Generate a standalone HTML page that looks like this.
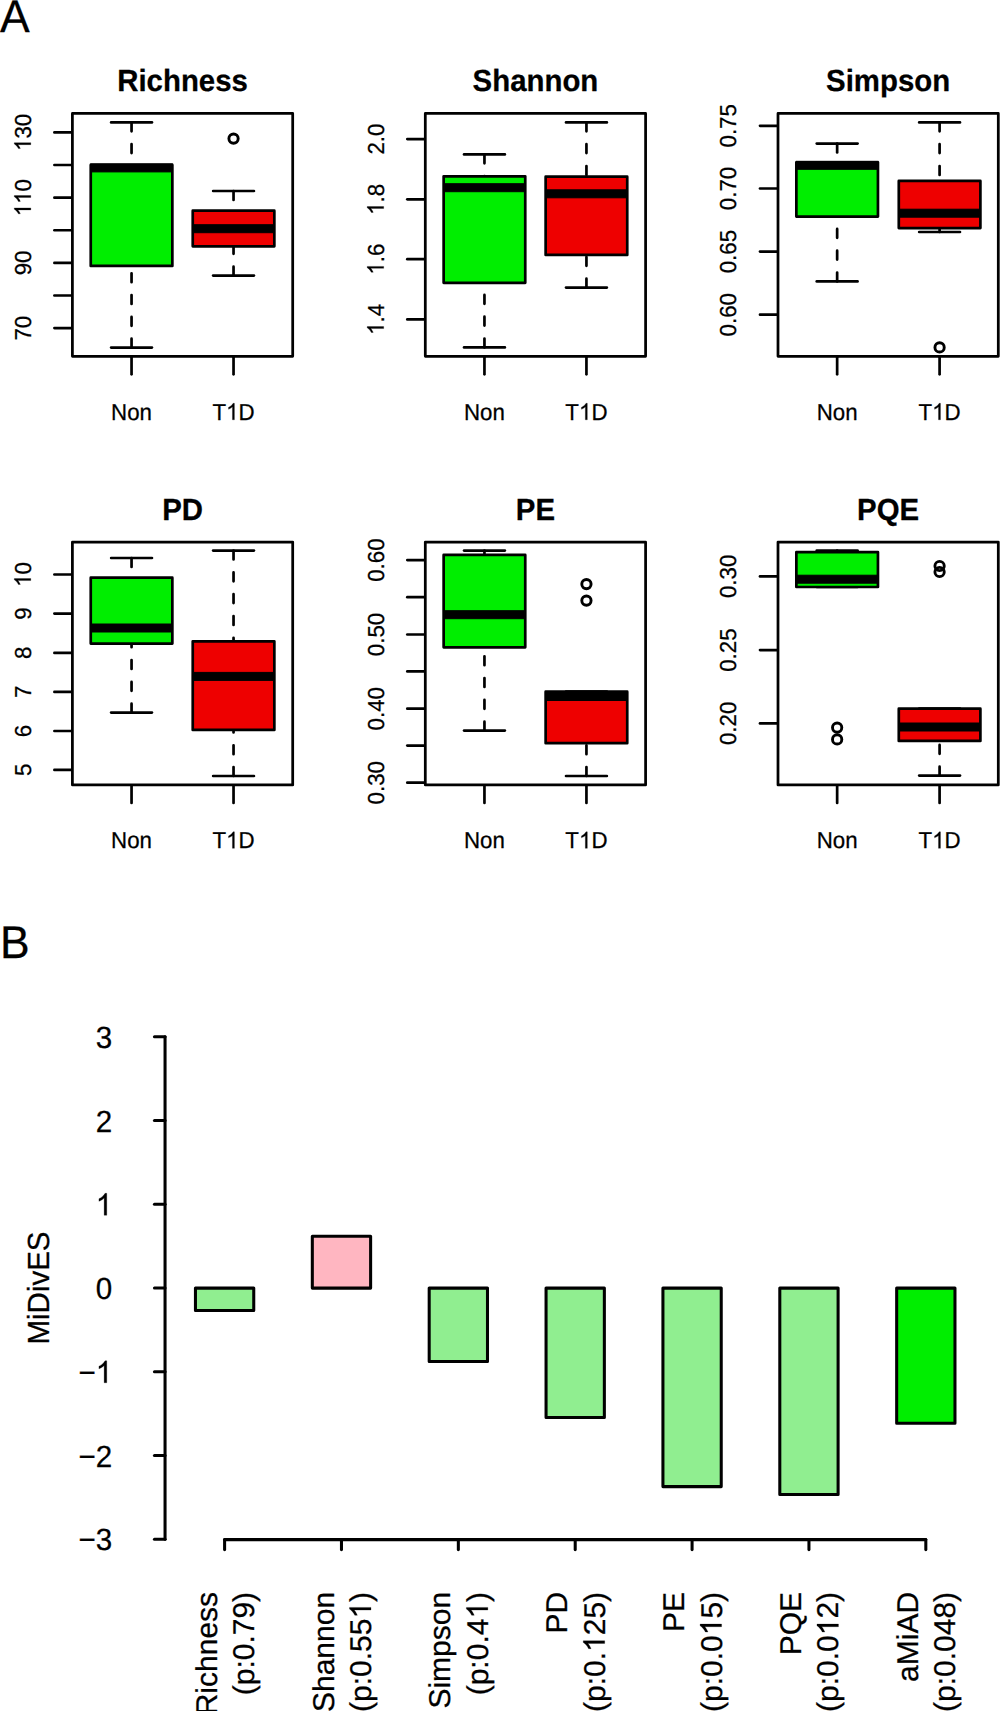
<!DOCTYPE html>
<html><head><meta charset="utf-8"><style>
html,body{margin:0;padding:0;background:#fff;}
svg{display:block;}
text{font-family:"Liberation Sans", sans-serif;fill:#000;stroke:#000;stroke-width:0.25px;font-kerning:none;font-variant-ligatures:none;}
.h{fill-opacity:0;stroke-opacity:0;}
g>path{fill:#000;stroke:#000;}
.tt{font-size:29.4px;font-weight:bold;text-anchor:middle;stroke-width:0.25px;}
.ax{font-size:22.3px;text-anchor:middle;}
.pl{font-size:44.5px;}
.bl{font-size:29.6px;text-anchor:end;}
.bm{font-size:29.5px;text-anchor:middle;}
.bx{font-size:30px;text-anchor:end;}
line,rect,circle{stroke:#000;stroke-linecap:round;}
</style></head><body>
<svg width="1000" height="1711" viewBox="0 0 1000 1711">
<text class="tt" transform="translate(182.55,91) scale(1,1.04) skewX(0.05)">Richness</text>
<line x1="131.55" y1="122.4" x2="131.55" y2="164.9" stroke-width="2.7" stroke-dasharray="8.9 12.9"/>
<line x1="131.55" y1="347.6" x2="131.55" y2="265.9" stroke-width="2.7" stroke-dasharray="8.9 12.9"/>
<line x1="111.15" y1="122.4" x2="151.95" y2="122.4" stroke-width="2.7"/>
<line x1="111.15" y1="347.6" x2="151.95" y2="347.6" stroke-width="2.7"/>
<rect x="90.75" y="164.9" width="81.6" height="101" fill="#00EE00" stroke-width="2.7" stroke-linejoin="round"/>
<rect x="90.75" y="163.9" width="81.6" height="8" fill="#000" stroke="none"/>
<line x1="233.54" y1="191" x2="233.54" y2="210.7" stroke-width="2.7" stroke-dasharray="8.9 12.9"/>
<line x1="233.54" y1="275.6" x2="233.54" y2="246.3" stroke-width="2.7" stroke-dasharray="8.9 12.9"/>
<line x1="213.14" y1="191" x2="253.94" y2="191" stroke-width="2.7"/>
<line x1="213.14" y1="275.6" x2="253.94" y2="275.6" stroke-width="2.7"/>
<rect x="192.74" y="210.7" width="81.6" height="35.6" fill="#EE0000" stroke-width="2.7" stroke-linejoin="round"/>
<rect x="192.74" y="224.7" width="81.6" height="8" fill="#000" stroke="none"/>
<circle cx="233.54" cy="138.6" r="4.65" fill="none" stroke-width="2.9"/>
<rect x="72.4" y="113.45" width="220.3" height="242.9" fill="none" stroke-width="2.75" stroke-linejoin="round"/>
<line x1="54.4" y1="132.4" x2="71.4" y2="132.4" stroke-width="2.7"/>
<g transform="translate(30.8,132.4) rotate(-90) scale(1,1.035) skewX(0.05)"><text class="ax"><tspan class="h">1</tspan>30</text><path d="M372.6 0H284.7V560Q252.9 529.8 201.4 499.5Q149.9 469.2 108.9 454.1V539Q182.6 573.7 237.8 623Q293 672.4 315.9 715.8H372.6Z" transform="translate(-18.6,0) scale(0.02230,-0.02230)" stroke-width="11.21"/></g>
<line x1="54.4" y1="165.02" x2="71.4" y2="165.02" stroke-width="2.7"/>
<line x1="54.4" y1="197.64" x2="71.4" y2="197.64" stroke-width="2.7"/>
<g transform="translate(30.8,197.64) rotate(-90) scale(1,1.035) skewX(0.05)"><text class="ax"><tspan class="h">1</tspan><tspan class="h">1</tspan>0</text><path d="M372.6 0H284.7V560Q252.9 529.8 201.4 499.5Q149.9 469.2 108.9 454.1V539Q182.6 573.7 237.8 623Q293 672.4 315.9 715.8H372.6Z" transform="translate(-18.6,0) scale(0.02230,-0.02230)" stroke-width="11.21"/><path d="M372.6 0H284.7V560Q252.9 529.8 201.4 499.5Q149.9 469.2 108.9 454.1V539Q182.6 573.7 237.8 623Q293 672.4 315.9 715.8H372.6Z" transform="translate(-6.2,0) scale(0.02230,-0.02230)" stroke-width="11.21"/></g>
<line x1="54.4" y1="230.26" x2="71.4" y2="230.26" stroke-width="2.7"/>
<line x1="54.4" y1="262.88" x2="71.4" y2="262.88" stroke-width="2.7"/>
<g transform="translate(30.8,262.88) rotate(-90) scale(1,1.035) skewX(0.05)"><text class="ax">90</text></g>
<line x1="54.4" y1="295.5" x2="71.4" y2="295.5" stroke-width="2.7"/>
<line x1="54.4" y1="328.12" x2="71.4" y2="328.12" stroke-width="2.7"/>
<g transform="translate(30.8,328.12) rotate(-90) scale(1,1.035) skewX(0.05)"><text class="ax">70</text></g>
<line x1="131.55" y1="357.35" x2="131.55" y2="374.35" stroke-width="2.7"/>
<g transform="translate(131.55,419.8) scale(1,1.035) skewX(0.05)"><text class="ax">Non</text></g>
<line x1="233.54" y1="357.35" x2="233.54" y2="374.35" stroke-width="2.7"/>
<g transform="translate(233.54,419.8) scale(1,1.035) skewX(0.05)"><text class="ax">T<tspan class="h">1</tspan>D</text><path d="M372.6 0H284.7V560Q252.9 529.8 201.4 499.5Q149.9 469.2 108.9 454.1V539Q182.6 573.7 237.8 623Q293 672.4 315.9 715.8H372.6Z" transform="translate(-7.44,0) scale(0.02230,-0.02230)" stroke-width="11.21"/></g>
<text class="tt" transform="translate(535.45,91) scale(1,1.04) skewX(0.05)">Shannon</text>
<line x1="484.45" y1="154.4" x2="484.45" y2="176.3" stroke-width="2.7" stroke-dasharray="8.9 12.9"/>
<line x1="484.45" y1="347.4" x2="484.45" y2="282.8" stroke-width="2.7" stroke-dasharray="8.9 12.9"/>
<line x1="464.05" y1="154.4" x2="504.85" y2="154.4" stroke-width="2.7"/>
<line x1="464.05" y1="347.4" x2="504.85" y2="347.4" stroke-width="2.7"/>
<rect x="443.65" y="176.3" width="81.6" height="106.5" fill="#00EE00" stroke-width="2.7" stroke-linejoin="round"/>
<rect x="443.65" y="183.7" width="81.6" height="8" fill="#000" stroke="none"/>
<line x1="586.44" y1="122.4" x2="586.44" y2="176.7" stroke-width="2.7" stroke-dasharray="8.9 12.9"/>
<line x1="586.44" y1="287.6" x2="586.44" y2="254.9" stroke-width="2.7" stroke-dasharray="8.9 12.9"/>
<line x1="566.04" y1="122.4" x2="606.84" y2="122.4" stroke-width="2.7"/>
<line x1="566.04" y1="287.6" x2="606.84" y2="287.6" stroke-width="2.7"/>
<rect x="545.64" y="176.7" width="81.6" height="78.2" fill="#EE0000" stroke-width="2.7" stroke-linejoin="round"/>
<rect x="545.64" y="189.8" width="81.6" height="8" fill="#000" stroke="none"/>
<rect x="425.3" y="113.45" width="220.3" height="242.9" fill="none" stroke-width="2.75" stroke-linejoin="round"/>
<line x1="407.3" y1="139.1" x2="424.3" y2="139.1" stroke-width="2.7"/>
<g transform="translate(383.7,139.1) rotate(-90) scale(1,1.035) skewX(0.05)"><text class="ax">2.0</text></g>
<line x1="407.3" y1="199.3" x2="424.3" y2="199.3" stroke-width="2.7"/>
<g transform="translate(383.7,199.3) rotate(-90) scale(1,1.035) skewX(0.05)"><text class="ax"><tspan class="h">1</tspan>.8</text><path d="M372.6 0H284.7V560Q252.9 529.8 201.4 499.5Q149.9 469.2 108.9 454.1V539Q182.6 573.7 237.8 623Q293 672.4 315.9 715.8H372.6Z" transform="translate(-15.5,0) scale(0.02230,-0.02230)" stroke-width="11.21"/></g>
<line x1="407.3" y1="259.2" x2="424.3" y2="259.2" stroke-width="2.7"/>
<g transform="translate(383.7,259.2) rotate(-90) scale(1,1.035) skewX(0.05)"><text class="ax"><tspan class="h">1</tspan>.6</text><path d="M372.6 0H284.7V560Q252.9 529.8 201.4 499.5Q149.9 469.2 108.9 454.1V539Q182.6 573.7 237.8 623Q293 672.4 315.9 715.8H372.6Z" transform="translate(-15.5,0) scale(0.02230,-0.02230)" stroke-width="11.21"/></g>
<line x1="407.3" y1="319.4" x2="424.3" y2="319.4" stroke-width="2.7"/>
<g transform="translate(383.7,319.4) rotate(-90) scale(1,1.035) skewX(0.05)"><text class="ax"><tspan class="h">1</tspan>.4</text><path d="M372.6 0H284.7V560Q252.9 529.8 201.4 499.5Q149.9 469.2 108.9 454.1V539Q182.6 573.7 237.8 623Q293 672.4 315.9 715.8H372.6Z" transform="translate(-15.5,0) scale(0.02230,-0.02230)" stroke-width="11.21"/></g>
<line x1="484.45" y1="357.35" x2="484.45" y2="374.35" stroke-width="2.7"/>
<g transform="translate(484.45,419.8) scale(1,1.035) skewX(0.05)"><text class="ax">Non</text></g>
<line x1="586.44" y1="357.35" x2="586.44" y2="374.35" stroke-width="2.7"/>
<g transform="translate(586.44,419.8) scale(1,1.035) skewX(0.05)"><text class="ax">T<tspan class="h">1</tspan>D</text><path d="M372.6 0H284.7V560Q252.9 529.8 201.4 499.5Q149.9 469.2 108.9 454.1V539Q182.6 573.7 237.8 623Q293 672.4 315.9 715.8H372.6Z" transform="translate(-7.44,0) scale(0.02230,-0.02230)" stroke-width="11.21"/></g>
<text class="tt" transform="translate(888.15,91) scale(1,1.04) skewX(0.05)">Simpson</text>
<line x1="837.15" y1="143.6" x2="837.15" y2="162.3" stroke-width="2.7" stroke-dasharray="8.9 12.9"/>
<line x1="837.15" y1="281.4" x2="837.15" y2="216.6" stroke-width="2.7" stroke-dasharray="8.9 12.9"/>
<line x1="816.75" y1="143.6" x2="857.55" y2="143.6" stroke-width="2.7"/>
<line x1="816.75" y1="281.4" x2="857.55" y2="281.4" stroke-width="2.7"/>
<rect x="796.35" y="162.3" width="81.6" height="54.3" fill="#00EE00" stroke-width="2.7" stroke-linejoin="round"/>
<rect x="796.35" y="161.3" width="81.6" height="8" fill="#000" stroke="none"/>
<line x1="939.59" y1="122.4" x2="939.59" y2="180.9" stroke-width="2.7" stroke-dasharray="8.9 12.9"/>
<line x1="939.59" y1="232" x2="939.59" y2="228.1" stroke-width="2.7" stroke-dasharray="8.9 12.9"/>
<line x1="919.19" y1="122.4" x2="959.99" y2="122.4" stroke-width="2.7"/>
<line x1="919.19" y1="232" x2="959.99" y2="232" stroke-width="2.7"/>
<rect x="898.79" y="180.9" width="81.6" height="47.2" fill="#EE0000" stroke-width="2.7" stroke-linejoin="round"/>
<rect x="898.79" y="209.2" width="81.6" height="8" fill="#000" stroke="none"/>
<circle cx="939.59" cy="347.4" r="4.65" fill="none" stroke-width="2.9"/>
<rect x="778" y="113.45" width="220.3" height="242.9" fill="none" stroke-width="2.75" stroke-linejoin="round"/>
<line x1="760" y1="125.8" x2="777" y2="125.8" stroke-width="2.7"/>
<g transform="translate(736.4,125.8) rotate(-90) scale(1,1.035) skewX(0.05)"><text class="ax">0.75</text></g>
<line x1="760" y1="188.5" x2="777" y2="188.5" stroke-width="2.7"/>
<g transform="translate(736.4,188.5) rotate(-90) scale(1,1.035) skewX(0.05)"><text class="ax">0.70</text></g>
<line x1="760" y1="251.6" x2="777" y2="251.6" stroke-width="2.7"/>
<g transform="translate(736.4,251.6) rotate(-90) scale(1,1.035) skewX(0.05)"><text class="ax">0.65</text></g>
<line x1="760" y1="314.7" x2="777" y2="314.7" stroke-width="2.7"/>
<g transform="translate(736.4,314.7) rotate(-90) scale(1,1.035) skewX(0.05)"><text class="ax">0.60</text></g>
<line x1="837.15" y1="357.35" x2="837.15" y2="374.35" stroke-width="2.7"/>
<g transform="translate(837.15,419.8) scale(1,1.035) skewX(0.05)"><text class="ax">Non</text></g>
<line x1="939.59" y1="357.35" x2="939.59" y2="374.35" stroke-width="2.7"/>
<g transform="translate(939.59,419.8) scale(1,1.035) skewX(0.05)"><text class="ax">T<tspan class="h">1</tspan>D</text><path d="M372.6 0H284.7V560Q252.9 529.8 201.4 499.5Q149.9 469.2 108.9 454.1V539Q182.6 573.7 237.8 623Q293 672.4 315.9 715.8H372.6Z" transform="translate(-7.44,0) scale(0.02230,-0.02230)" stroke-width="11.21"/></g>
<text class="tt" transform="translate(182.55,519.55) scale(1,1.04) skewX(0.05)">PD</text>
<line x1="131.55" y1="558" x2="131.55" y2="577.7" stroke-width="2.7" stroke-dasharray="8.9 12.9"/>
<line x1="131.55" y1="712.6" x2="131.55" y2="643.6" stroke-width="2.7" stroke-dasharray="8.9 12.9"/>
<line x1="111.15" y1="558" x2="151.95" y2="558" stroke-width="2.7"/>
<line x1="111.15" y1="712.6" x2="151.95" y2="712.6" stroke-width="2.7"/>
<rect x="90.75" y="577.7" width="81.6" height="65.9" fill="#00EE00" stroke-width="2.7" stroke-linejoin="round"/>
<rect x="90.75" y="624" width="81.6" height="8" fill="#000" stroke="none"/>
<line x1="233.54" y1="550.6" x2="233.54" y2="641.3" stroke-width="2.7" stroke-dasharray="8.9 12.9"/>
<line x1="233.54" y1="776" x2="233.54" y2="729.9" stroke-width="2.7" stroke-dasharray="8.9 12.9"/>
<line x1="213.14" y1="550.6" x2="253.94" y2="550.6" stroke-width="2.7"/>
<line x1="213.14" y1="776" x2="253.94" y2="776" stroke-width="2.7"/>
<rect x="192.74" y="641.3" width="81.6" height="88.6" fill="#EE0000" stroke-width="2.7" stroke-linejoin="round"/>
<rect x="192.74" y="672.4" width="81.6" height="8" fill="#000" stroke="none"/>
<rect x="72.4" y="542" width="220.3" height="242.9" fill="none" stroke-width="2.75" stroke-linejoin="round"/>
<line x1="54.4" y1="574.5" x2="71.4" y2="574.5" stroke-width="2.7"/>
<g transform="translate(30.8,574.5) rotate(-90) scale(1,1.035) skewX(0.05)"><text class="ax"><tspan class="h">1</tspan>0</text><path d="M372.6 0H284.7V560Q252.9 529.8 201.4 499.5Q149.9 469.2 108.9 454.1V539Q182.6 573.7 237.8 623Q293 672.4 315.9 715.8H372.6Z" transform="translate(-12.4,0) scale(0.02230,-0.02230)" stroke-width="11.21"/></g>
<line x1="54.4" y1="613.6" x2="71.4" y2="613.6" stroke-width="2.7"/>
<g transform="translate(30.8,613.6) rotate(-90) scale(1,1.035) skewX(0.05)"><text class="ax">9</text></g>
<line x1="54.4" y1="652.9" x2="71.4" y2="652.9" stroke-width="2.7"/>
<g transform="translate(30.8,652.9) rotate(-90) scale(1,1.035) skewX(0.05)"><text class="ax">8</text></g>
<line x1="54.4" y1="691.9" x2="71.4" y2="691.9" stroke-width="2.7"/>
<g transform="translate(30.8,691.9) rotate(-90) scale(1,1.035) skewX(0.05)"><text class="ax">7</text></g>
<line x1="54.4" y1="731" x2="71.4" y2="731" stroke-width="2.7"/>
<g transform="translate(30.8,731) rotate(-90) scale(1,1.035) skewX(0.05)"><text class="ax">6</text></g>
<line x1="54.4" y1="769.9" x2="71.4" y2="769.9" stroke-width="2.7"/>
<g transform="translate(30.8,769.9) rotate(-90) scale(1,1.035) skewX(0.05)"><text class="ax">5</text></g>
<line x1="131.55" y1="785.9" x2="131.55" y2="802.9" stroke-width="2.7"/>
<g transform="translate(131.55,848.35) scale(1,1.035) skewX(0.05)"><text class="ax">Non</text></g>
<line x1="233.54" y1="785.9" x2="233.54" y2="802.9" stroke-width="2.7"/>
<g transform="translate(233.54,848.35) scale(1,1.035) skewX(0.05)"><text class="ax">T<tspan class="h">1</tspan>D</text><path d="M372.6 0H284.7V560Q252.9 529.8 201.4 499.5Q149.9 469.2 108.9 454.1V539Q182.6 573.7 237.8 623Q293 672.4 315.9 715.8H372.6Z" transform="translate(-7.44,0) scale(0.02230,-0.02230)" stroke-width="11.21"/></g>
<text class="tt" transform="translate(535.45,519.55) scale(1,1.04) skewX(0.05)">PE</text>
<line x1="484.45" y1="550.6" x2="484.45" y2="554.9" stroke-width="2.7" stroke-dasharray="8.9 12.9"/>
<line x1="484.45" y1="730.6" x2="484.45" y2="647.3" stroke-width="2.7" stroke-dasharray="8.9 12.9"/>
<line x1="464.05" y1="550.6" x2="504.85" y2="550.6" stroke-width="2.7"/>
<line x1="464.05" y1="730.6" x2="504.85" y2="730.6" stroke-width="2.7"/>
<rect x="443.65" y="554.9" width="81.6" height="92.4" fill="#00EE00" stroke-width="2.7" stroke-linejoin="round"/>
<rect x="443.65" y="610.7" width="81.6" height="8" fill="#000" stroke="none"/>
<line x1="586.44" y1="776" x2="586.44" y2="743.2" stroke-width="2.7" stroke-dasharray="8.9 12.9"/>
<line x1="566.04" y1="691.7" x2="606.84" y2="691.7" stroke-width="2.7"/>
<line x1="566.04" y1="776" x2="606.84" y2="776" stroke-width="2.7"/>
<rect x="545.64" y="691.7" width="81.6" height="51.5" fill="#EE0000" stroke-width="2.7" stroke-linejoin="round"/>
<rect x="545.64" y="692.5" width="81.6" height="8" fill="#000" stroke="none"/>
<circle cx="586.44" cy="584.1" r="4.65" fill="none" stroke-width="2.9"/>
<circle cx="586.44" cy="600.6" r="4.65" fill="none" stroke-width="2.9"/>
<rect x="425.3" y="542" width="220.3" height="242.9" fill="none" stroke-width="2.75" stroke-linejoin="round"/>
<line x1="407.3" y1="560.1" x2="424.3" y2="560.1" stroke-width="2.7"/>
<g transform="translate(383.7,560.1) rotate(-90) scale(1,1.035) skewX(0.05)"><text class="ax">0.60</text></g>
<line x1="407.3" y1="597.2" x2="424.3" y2="597.2" stroke-width="2.7"/>
<line x1="407.3" y1="634.5" x2="424.3" y2="634.5" stroke-width="2.7"/>
<g transform="translate(383.7,634.5) rotate(-90) scale(1,1.035) skewX(0.05)"><text class="ax">0.50</text></g>
<line x1="407.3" y1="671.4" x2="424.3" y2="671.4" stroke-width="2.7"/>
<line x1="407.3" y1="708.7" x2="424.3" y2="708.7" stroke-width="2.7"/>
<g transform="translate(383.7,708.7) rotate(-90) scale(1,1.035) skewX(0.05)"><text class="ax">0.40</text></g>
<line x1="407.3" y1="745.6" x2="424.3" y2="745.6" stroke-width="2.7"/>
<line x1="407.3" y1="782.7" x2="424.3" y2="782.7" stroke-width="2.7"/>
<g transform="translate(383.7,782.7) rotate(-90) scale(1,1.035) skewX(0.05)"><text class="ax">0.30</text></g>
<line x1="484.45" y1="785.9" x2="484.45" y2="802.9" stroke-width="2.7"/>
<g transform="translate(484.45,848.35) scale(1,1.035) skewX(0.05)"><text class="ax">Non</text></g>
<line x1="586.44" y1="785.9" x2="586.44" y2="802.9" stroke-width="2.7"/>
<g transform="translate(586.44,848.35) scale(1,1.035) skewX(0.05)"><text class="ax">T<tspan class="h">1</tspan>D</text><path d="M372.6 0H284.7V560Q252.9 529.8 201.4 499.5Q149.9 469.2 108.9 454.1V539Q182.6 573.7 237.8 623Q293 672.4 315.9 715.8H372.6Z" transform="translate(-7.44,0) scale(0.02230,-0.02230)" stroke-width="11.21"/></g>
<text class="tt" transform="translate(888.15,519.55) scale(1,1.04) skewX(0.05)">PQE</text>
<line x1="837.15" y1="550.5" x2="837.15" y2="552.2" stroke-width="2.7" stroke-dasharray="8.9 12.9"/>
<line x1="816.75" y1="550.5" x2="857.55" y2="550.5" stroke-width="2.7"/>
<line x1="816.75" y1="587" x2="857.55" y2="587" stroke-width="2.7"/>
<rect x="796.35" y="552.2" width="81.6" height="34.8" fill="#00EE00" stroke-width="2.7" stroke-linejoin="round"/>
<rect x="796.35" y="575.2" width="81.6" height="8" fill="#000" stroke="none"/>
<circle cx="837.15" cy="727.6" r="4.65" fill="none" stroke-width="2.9"/>
<circle cx="837.15" cy="739.4" r="4.65" fill="none" stroke-width="2.9"/>
<line x1="939.59" y1="775.6" x2="939.59" y2="740.9" stroke-width="2.7" stroke-dasharray="8.9 12.9"/>
<line x1="919.19" y1="708.7" x2="959.99" y2="708.7" stroke-width="2.7"/>
<line x1="919.19" y1="775.6" x2="959.99" y2="775.6" stroke-width="2.7"/>
<rect x="898.79" y="708.7" width="81.6" height="32.2" fill="#EE0000" stroke-width="2.7" stroke-linejoin="round"/>
<rect x="898.79" y="723" width="81.6" height="8" fill="#000" stroke="none"/>
<circle cx="939.59" cy="566" r="4.65" fill="none" stroke-width="2.9"/>
<circle cx="939.59" cy="572" r="4.65" fill="none" stroke-width="2.9"/>
<rect x="778" y="542" width="220.3" height="242.9" fill="none" stroke-width="2.75" stroke-linejoin="round"/>
<line x1="760" y1="576.4" x2="777" y2="576.4" stroke-width="2.7"/>
<g transform="translate(736.4,576.4) rotate(-90) scale(1,1.035) skewX(0.05)"><text class="ax">0.30</text></g>
<line x1="760" y1="650.1" x2="777" y2="650.1" stroke-width="2.7"/>
<g transform="translate(736.4,650.1) rotate(-90) scale(1,1.035) skewX(0.05)"><text class="ax">0.25</text></g>
<line x1="760" y1="723.4" x2="777" y2="723.4" stroke-width="2.7"/>
<g transform="translate(736.4,723.4) rotate(-90) scale(1,1.035) skewX(0.05)"><text class="ax">0.20</text></g>
<line x1="837.15" y1="785.9" x2="837.15" y2="802.9" stroke-width="2.7"/>
<g transform="translate(837.15,848.35) scale(1,1.035) skewX(0.05)"><text class="ax">Non</text></g>
<line x1="939.59" y1="785.9" x2="939.59" y2="802.9" stroke-width="2.7"/>
<g transform="translate(939.59,848.35) scale(1,1.035) skewX(0.05)"><text class="ax">T<tspan class="h">1</tspan>D</text><path d="M372.6 0H284.7V560Q252.9 529.8 201.4 499.5Q149.9 469.2 108.9 454.1V539Q182.6 573.7 237.8 623Q293 672.4 315.9 715.8H372.6Z" transform="translate(-7.44,0) scale(0.02230,-0.02230)" stroke-width="11.21"/></g>
<text class="pl" transform="translate(0,31.6) scale(1,1.03) skewX(0.05)">A</text>
<text class="pl" transform="translate(0,957.85) scale(1,1.03) skewX(0.05)">B</text>
<line x1="165.05" y1="1036.75" x2="165.05" y2="1539.25" stroke-width="3.05"/>
<line x1="154.45" y1="1036.75" x2="165.05" y2="1036.75" stroke-width="3.05"/>
<g transform="translate(112.2,1047.75) scale(1,1.035) skewX(0.05)"><text class="bl">3</text></g>
<line x1="154.45" y1="1120.5" x2="165.05" y2="1120.5" stroke-width="3.05"/>
<g transform="translate(112.2,1131.5) scale(1,1.035) skewX(0.05)"><text class="bl">2</text></g>
<line x1="154.45" y1="1204.25" x2="165.05" y2="1204.25" stroke-width="3.05"/>
<g transform="translate(112.2,1215.25) scale(1,1.035) skewX(0.05)"><text class="bl"><tspan class="h">1</tspan></text><path d="M372.6 0H284.7V560Q252.9 529.8 201.4 499.5Q149.9 469.2 108.9 454.1V539Q182.6 573.7 237.8 623Q293 672.4 315.9 715.8H372.6Z" transform="translate(-16.46,0) scale(0.02960,-0.02960)" stroke-width="8.45"/></g>
<line x1="154.45" y1="1288" x2="165.05" y2="1288" stroke-width="3.05"/>
<g transform="translate(112.2,1299) scale(1,1.035) skewX(0.05)"><text class="bl">0</text></g>
<line x1="154.45" y1="1371.75" x2="165.05" y2="1371.75" stroke-width="3.05"/>
<g transform="translate(112.2,1382.75) scale(1,1.035) skewX(0.05)"><text class="bl">−<tspan class="h">1</tspan></text><path d="M372.6 0H284.7V560Q252.9 529.8 201.4 499.5Q149.9 469.2 108.9 454.1V539Q182.6 573.7 237.8 623Q293 672.4 315.9 715.8H372.6Z" transform="translate(-16.46,0) scale(0.02960,-0.02960)" stroke-width="8.45"/></g>
<line x1="154.45" y1="1455.5" x2="165.05" y2="1455.5" stroke-width="3.05"/>
<g transform="translate(112.2,1466.5) scale(1,1.035) skewX(0.05)"><text class="bl">−2</text></g>
<line x1="154.45" y1="1539.25" x2="165.05" y2="1539.25" stroke-width="3.05"/>
<g transform="translate(112.2,1550.25) scale(1,1.035) skewX(0.05)"><text class="bl">−3</text></g>
<g transform="translate(48.8,1288) rotate(-90) scale(1,1.035) skewX(0.05)"><text class="bm">MiDivES</text></g>
<rect x="195.45" y="1288.1" width="58.3" height="22.4" fill="#90EE90" stroke-width="3.05" stroke-linejoin="round"/>
<rect x="312.32" y="1236.3" width="58.3" height="51.8" fill="#FFB6C1" stroke-width="3.05" stroke-linejoin="round"/>
<rect x="429.19" y="1288.1" width="58.3" height="73.3" fill="#90EE90" stroke-width="3.05" stroke-linejoin="round"/>
<rect x="546.06" y="1288.1" width="58.3" height="129.3" fill="#90EE90" stroke-width="3.05" stroke-linejoin="round"/>
<rect x="662.93" y="1288.1" width="58.3" height="198.5" fill="#90EE90" stroke-width="3.05" stroke-linejoin="round"/>
<rect x="779.8" y="1288.1" width="58.3" height="206.4" fill="#90EE90" stroke-width="3.05" stroke-linejoin="round"/>
<rect x="896.67" y="1288.1" width="58.3" height="135.2" fill="#00EE00" stroke-width="3.05" stroke-linejoin="round"/>
<line x1="224.6" y1="1539.6" x2="925.82" y2="1539.6" stroke-width="3.05"/>
<line x1="224.6" y1="1539.6" x2="224.6" y2="1549.6" stroke-width="3.05"/>
<line x1="341.47" y1="1539.6" x2="341.47" y2="1549.6" stroke-width="3.05"/>
<line x1="458.34" y1="1539.6" x2="458.34" y2="1549.6" stroke-width="3.05"/>
<line x1="575.21" y1="1539.6" x2="575.21" y2="1549.6" stroke-width="3.05"/>
<line x1="692.08" y1="1539.6" x2="692.08" y2="1549.6" stroke-width="3.05"/>
<line x1="808.95" y1="1539.6" x2="808.95" y2="1549.6" stroke-width="3.05"/>
<line x1="925.82" y1="1539.6" x2="925.82" y2="1549.6" stroke-width="3.05"/>
<g transform="translate(216.75,1591.9) rotate(-90) scale(1,1.0) skewX(0.05)"><text class="bx">Richness</text></g>
<g transform="translate(254.1,1591.9) rotate(-90) scale(1,1.0) skewX(0.05)"><text class="bx">(p:0.79)</text></g>
<g transform="translate(333.62,1591.9) rotate(-90) scale(1,1.0) skewX(0.05)"><text class="bx">Shannon</text></g>
<g transform="translate(370.97,1591.9) rotate(-90) scale(1,1.0) skewX(0.05)"><text class="bx">(p:0.55<tspan class="h">1</tspan>)</text><path d="M372.6 0H284.7V560Q252.9 529.8 201.4 499.5Q149.9 469.2 108.9 454.1V539Q182.6 573.7 237.8 623Q293 672.4 315.9 715.8H372.6Z" transform="translate(-26.67,0) scale(0.03000,-0.03000)" stroke-width="8.33"/></g>
<g transform="translate(450.49,1591.9) rotate(-90) scale(1,1.0) skewX(0.05)"><text class="bx">Simpson</text></g>
<g transform="translate(487.84,1591.9) rotate(-90) scale(1,1.0) skewX(0.05)"><text class="bx">(p:0.4<tspan class="h">1</tspan>)</text><path d="M372.6 0H284.7V560Q252.9 529.8 201.4 499.5Q149.9 469.2 108.9 454.1V539Q182.6 573.7 237.8 623Q293 672.4 315.9 715.8H372.6Z" transform="translate(-26.67,0) scale(0.03000,-0.03000)" stroke-width="8.33"/></g>
<g transform="translate(567.36,1591.9) rotate(-90) scale(1,1.0) skewX(0.05)"><text class="bx">PD</text></g>
<g transform="translate(604.71,1591.9) rotate(-90) scale(1,1.0) skewX(0.05)"><text class="bx">(p:0.<tspan class="h">1</tspan>25)</text><path d="M372.6 0H284.7V560Q252.9 529.8 201.4 499.5Q149.9 469.2 108.9 454.1V539Q182.6 573.7 237.8 623Q293 672.4 315.9 715.8H372.6Z" transform="translate(-60.04,0) scale(0.03000,-0.03000)" stroke-width="8.33"/></g>
<g transform="translate(684.23,1591.9) rotate(-90) scale(1,1.0) skewX(0.05)"><text class="bx">PE</text></g>
<g transform="translate(721.58,1591.9) rotate(-90) scale(1,1.0) skewX(0.05)"><text class="bx">(p:0.0<tspan class="h">1</tspan>5)</text><path d="M372.6 0H284.7V560Q252.9 529.8 201.4 499.5Q149.9 469.2 108.9 454.1V539Q182.6 573.7 237.8 623Q293 672.4 315.9 715.8H372.6Z" transform="translate(-43.36,0) scale(0.03000,-0.03000)" stroke-width="8.33"/></g>
<g transform="translate(801.1,1591.9) rotate(-90) scale(1,1.0) skewX(0.05)"><text class="bx">PQE</text></g>
<g transform="translate(838.45,1591.9) rotate(-90) scale(1,1.0) skewX(0.05)"><text class="bx">(p:0.0<tspan class="h">1</tspan>2)</text><path d="M372.6 0H284.7V560Q252.9 529.8 201.4 499.5Q149.9 469.2 108.9 454.1V539Q182.6 573.7 237.8 623Q293 672.4 315.9 715.8H372.6Z" transform="translate(-43.36,0) scale(0.03000,-0.03000)" stroke-width="8.33"/></g>
<g transform="translate(917.97,1591.9) rotate(-90) scale(1,1.0) skewX(0.05)"><text class="bx">aMiAD</text></g>
<g transform="translate(955.32,1591.9) rotate(-90) scale(1,1.0) skewX(0.05)"><text class="bx">(p:0.048)</text></g>
</svg>
</body></html>
